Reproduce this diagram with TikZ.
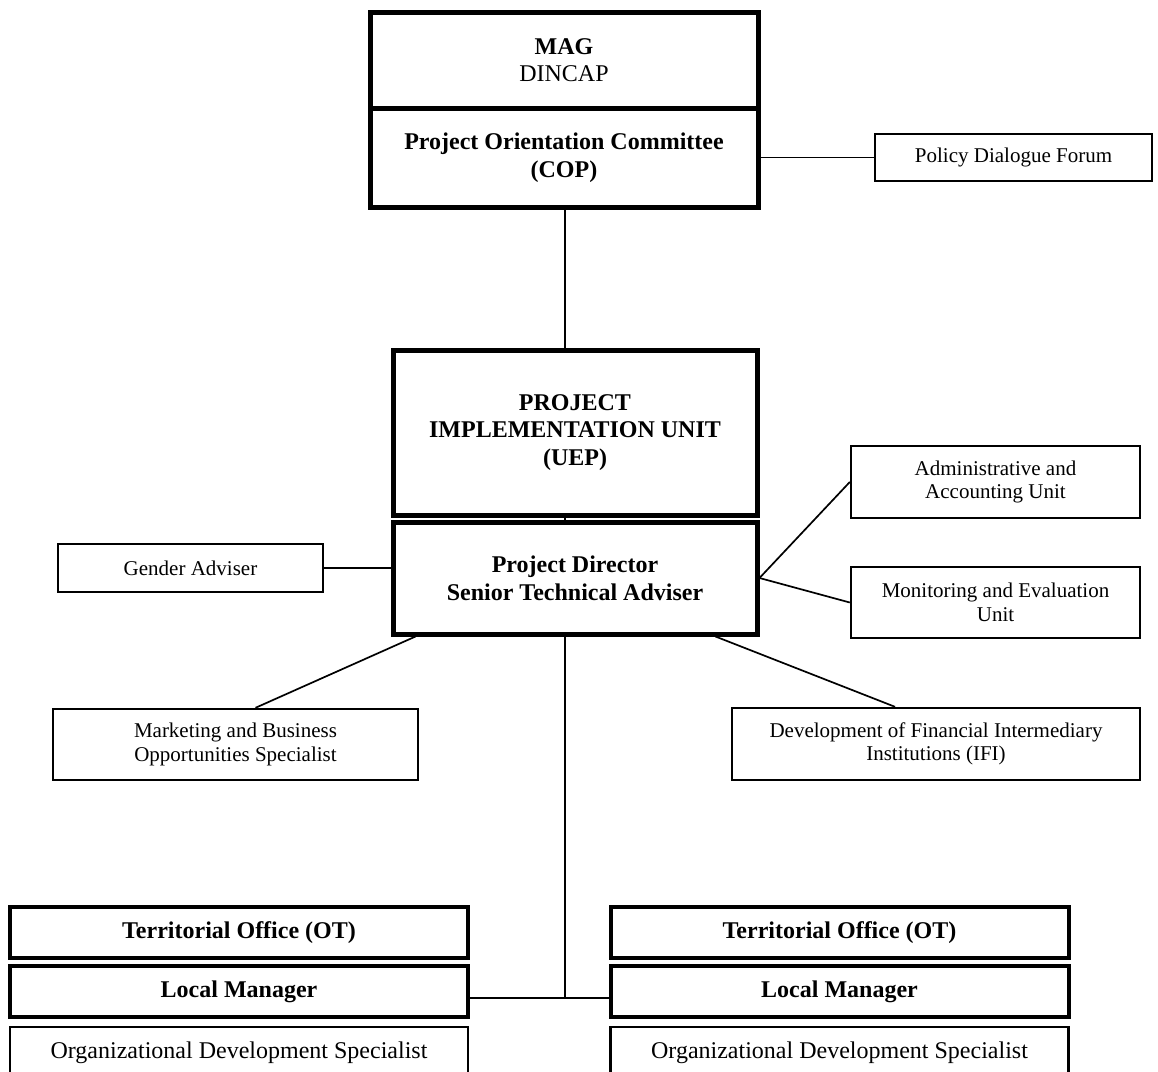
\documentclass[tikz,border=0pt]{standalone}
\usepackage{fontspec}
\setmainfont{Liberation Serif}
\usepackage{tikz}
\usetikzlibrary{positioning}

\begin{document}
\begin{tikzpicture}[
    x=0.5pt, y=-0.5pt,
    box/.style={rectangle, draw=black, align=center, inner sep=2pt, font=\fontsize{10.5}{11.8}\selectfont},
    mainbox/.style={box, line width=2.5pt, font=\fontsize{12}{13.8}\selectfont\bfseries},
    sidebox/.style={box, line width=1.2pt},
    officebox/.style={box, line width=2pt, minimum width=229pt, minimum height=25.5pt, font=\fontsize{12}{13.8}\selectfont\bfseries},
    staffbox/.style={box, line width=1.3pt, minimum width=229pt, minimum height=25.5pt, font=\fontsize{12}{13.8}\selectfont},
    edge/.style={line width=0.85pt, black}
]
    \useasboundingbox (0,0) rectangle (1158,1072);
    \clip (0,0) rectangle (1158,1072);

    % --- Top: ministry and committee
    \node[mainbox, minimum width=194pt, minimum height=48pt] (mag) at (564, 60) {MAG\\\mdseries DINCAP};
    \node[mainbox, minimum width=194pt, minimum height=49.5pt] (cop) at (564, 157.5) {Project Orientation Committee\\(COP)};
    \node[sidebox, minimum width=138.5pt, minimum height=23.5pt] (policy) at (1013.5, 157.5) {Policy Dialogue Forum};

    % --- Middle: implementation unit
    \node[mainbox, minimum width=182pt, minimum height=82.5pt] (uep) at (575, 432.5) {PROJECT\\IMPLEMENTATION UNIT\\(UEP)};
    \node[mainbox, minimum width=182pt, minimum height=56pt] (pd) at (575, 578) {Project Director\\Senior Technical Adviser};

    % --- Advisers and units round the director
    \node[sidebox, minimum width=132.5pt, minimum height=24pt] (gender) at (190.5, 568) {Gender Adviser};
    \node[sidebox, minimum width=182.5pt, minimum height=35.5pt] (market) at (235.5, 744.5) {Marketing and Business\\Opportunities Specialist};
    \node[sidebox, minimum width=144.5pt, minimum height=36pt] (admin) at (995.5, 482) {Administrative and\\Accounting Unit};
    \node[sidebox, minimum width=144.5pt, minimum height=35.5pt] (monitor) at (995.5, 602.5) {Monitoring and Evaluation\\Unit};
    \node[sidebox, minimum width=204pt, minimum height=36pt] (dfii) at (936, 744) {Development of Financial Intermediary\\Institutions (IFI)};

    % --- Bottom left: territorial office
    \node[officebox] (tol) at (239, 932.5) {Territorial Office (OT)};
    \node[officebox] (lml) at (239, 991.5) {Local Manager};
    \node[staffbox]  (odsl) at (239, 1052.5) {Organizational Development Specialist};

    % --- Bottom right: territorial office
    \node[officebox] (tor) at (839.5, 932.5) {Territorial Office (OT)};
    \node[officebox] (lmr) at (839.5, 991.5) {Local Manager};
    \node[staffbox]  (odsr) at (839.5, 1052.5) {Organizational Development Specialist};

    \coordinate (junction) at (565, 998);

    \draw[edge] (cop.east) -- (policy.west);
    \draw[edge] (cop.south -| junction) -- (uep.north -| junction);
    \draw[edge] (uep.south -| junction) -- (pd.north -| junction);

    \draw[edge] (gender.east) -- (gender.east -| pd.west);
    \draw[edge] (pd.east) -- (admin.west);
    \draw[edge] (pd.east) -- (monitor.west);
    \draw[edge] ([xshift=12.5pt]pd.south west) -- ([xshift=10pt]market.north);
    \draw[edge] ([xshift=-22pt]pd.south east) -- ([xshift=-20.5pt]dfii.north);

    \draw[edge] (pd.south -| junction) -- (junction);
    \draw[edge] (lml.east |- junction) -- (lmr.west |- junction);

\end{tikzpicture}
\end{document}
